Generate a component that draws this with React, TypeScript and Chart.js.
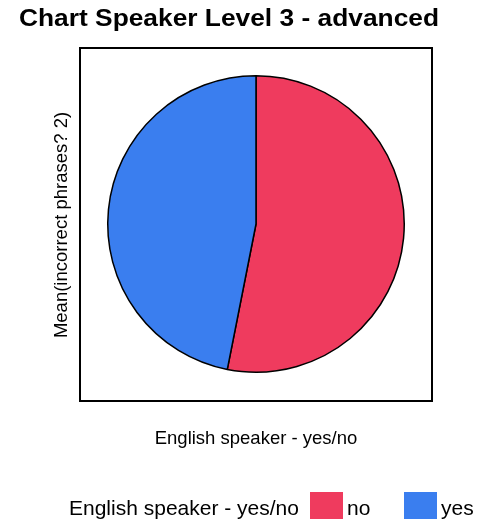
import React, { useEffect, useRef } from "react";
import { Chart, registerables } from "chart.js";

Chart.register(...registerables);

const TITLE = "Chart Speaker Level 3 - advanced";
const X_LABEL = "English speaker - yes/no";
const Y_LABEL = "Mean(incorrect phrases? 2)";
const LEGEND_TITLE = "English speaker - yes/no";
const categories = ["no", "yes"];
const values = [53.1, 46.9];
const colors = ["#EF3B5E", "#3A7EEF"];

const FONT = "Arial, 'Liberation Sans', sans-serif";

const decorPlugin = {
  id: "decor",
  afterDraw(chart: any) {
    const ctx = chart.ctx as CanvasRenderingContext2D;
    ctx.save();
    // frame
    ctx.strokeStyle = "#000";
    ctx.lineWidth = 2;
    ctx.strokeRect(80, 48, 352, 353);

    // title (stretched horizontally)
    ctx.fillStyle = "#000";
    ctx.font = `bold 23px ${FONT}`;
    ctx.textBaseline = "alphabetic";
    ctx.textAlign = "left";
    const tw = ctx.measureText(TITLE).width;
    const targetW = 420;
    ctx.save();
    ctx.translate(19, 26);
    ctx.scale(targetW / tw, 1);
    ctx.fillText(TITLE, 0, 0);
    ctx.restore();

    // x label
    ctx.font = `18.5px ${FONT}`;
    ctx.textAlign = "center";
    ctx.fillText(X_LABEL, 256, 444);

    // y label
    ctx.save();
    ctx.translate(67, 225);
    ctx.rotate(-Math.PI / 2);
    ctx.fillText(Y_LABEL, 0, 0);
    ctx.restore();

    // legend
    ctx.font = `21px ${FONT}`;
    ctx.textAlign = "left";
    ctx.fillText(LEGEND_TITLE, 69, 515);
    const boxX = [310, 404];
    categories.forEach((c, i) => {
      ctx.fillStyle = colors[i];
      ctx.fillRect(boxX[i], 492, 33, 27);
      ctx.fillStyle = "#000";
      ctx.fillText(c, boxX[i] + 37, 515);
    });
    ctx.restore();
  },
};

export default function App() {
  const ref = useRef<HTMLCanvasElement>(null);
  useEffect(() => {
    if (!ref.current) return;
    const chart = new Chart(ref.current, {
      type: "pie",
      data: {
        labels: categories,
        datasets: [
          {
            data: values,
            backgroundColor: colors,
            borderColor: "#000",
            borderWidth: 1.5,
          },
        ],
      },
      options: {
        responsive: false,
        animation: false,
        layout: { padding: { left: 107, right: 77, top: 75, bottom: 152 } },
        plugins: {
          legend: { display: false },
          title: { display: false },
          tooltip: { enabled: false },
        },
      },
      plugins: [decorPlugin],
    });
    return () => chart.destroy();
  }, []);
  return (
    <div style={{ position: "absolute", left: 0, top: 0, width: 482, height: 525, background: "#fff" }}>
      <canvas ref={ref} width={482} height={525} style={{ display: "block" }} />
    </div>
  );
}
